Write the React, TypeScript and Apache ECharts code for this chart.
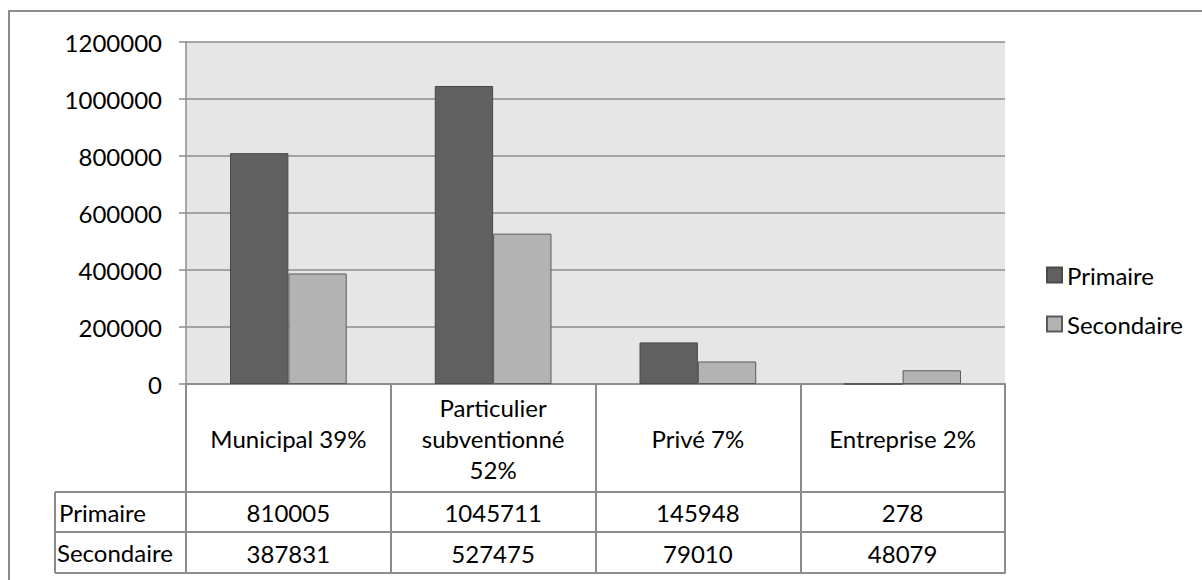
import React, { useEffect, useRef } from "react";
import * as echarts from "echarts";

const categories = ["Municipal 39%", "Particulier\nsubventionné\n52%", "Privé 7%", "Entreprise 2%"];
const seriesNames = ["Primaire", "Secondaire"];
const primaire = [810005, 1045711, 145948, 278];
const secondaire = [387831, 527475, 79010, 48079];
const yMin = 0;
const yMax = 1200000;
const yInterval = 200000;

const FONT = "Lato";
const LINE = "#8c8c8c";

export default function App() {
  const ref = useRef<HTMLDivElement>(null);
  useEffect(() => {
    document.body.style.margin = "0";
    const chart = echarts.init(ref.current!, null, { renderer: "svg" });
    const gridLeft = 186, gridTop = 42, gridRight = 1005, gridBottom = 384;
    const row1 = 108, row2 = 148, row3 = 189;
    const textBase = { fontFamily: FONT, fontSize: 24, color: "#000" };
    chart.setOption({
      animation: false,
      textStyle: { fontFamily: FONT },
      grid: {
        left: gridLeft, top: gridTop, right: 1202 - gridRight, bottom: 580 - gridBottom,
        show: true, backgroundColor: "#e6e6e6", borderWidth: 0,
      },
      legend: {
        orient: "vertical", left: 1046, top: 263, padding: 0, itemWidth: 15, itemHeight: 15, itemGap: 25,
        icon: "rect",
        data: seriesNames,
        textStyle: { ...textBase, lineHeight: 24 },
      },
      xAxis: [
        {
          type: "category", data: categories, position: "bottom",
          axisLine: { show: true, lineStyle: { color: LINE, width: 2 } },
          axisTick: { show: true, length: row3, interval: 0, lineStyle: { color: LINE, width: 2 } },
          axisLabel: { ...textBase, interval: 0, margin: 54, verticalAlign: "middle", lineHeight: 31 },
        },
        {
          type: "category", data: primaire.map(String), position: "bottom", offset: row1,
          axisLine: { show: true, lineStyle: { color: LINE, width: 2 } },
          axisTick: { show: false },
          axisLabel: { ...textBase, interval: 0, margin: 20, verticalAlign: "middle" },
        },
        {
          type: "category", data: secondaire.map(String), position: "bottom", offset: row2,
          axisLine: { show: true, lineStyle: { color: LINE, width: 2 } },
          axisTick: { show: false },
          axisLabel: { ...textBase, interval: 0, margin: 21, verticalAlign: "middle" },
        },
        {
          type: "category", data: categories, position: "bottom", offset: row3,
          axisLine: { show: true, lineStyle: { color: LINE, width: 2 } },
          axisTick: { show: false },
          axisLabel: { show: false },
        },
      ],
      yAxis: {
        type: "value", min: yMin, max: yMax, interval: yInterval,
        axisLine: { show: true, lineStyle: { color: LINE, width: 1.5 } },
        axisTick: { show: true, length: 7, lineStyle: { color: LINE, width: 1.5 } },
        axisLabel: { ...textBase, margin: 24, formatter: (v: number) => String(v) },
        splitLine: { show: true, lineStyle: { color: LINE, width: 1.5 } },
      },
      series: [
        {
          name: seriesNames[0], type: "bar", data: primaire, xAxisIndex: 0,
          barGap: "0%", barCategoryGap: "43%",
          itemStyle: { color: "#606060", borderColor: "#4a4a4a", borderWidth: 1 },
        },
        {
          name: seriesNames[1], type: "bar", data: secondaire, xAxisIndex: 0,
          barGap: "0%", barCategoryGap: "43%",
          itemStyle: { color: "#b3b3b3", borderColor: "#5a5a5a", borderWidth: 1 },
        },
      ],
      graphic: [
        { type: "rect", shape: { x: 9, y: 11, width: 1400, height: 800 }, style: { fill: "none", stroke: LINE, lineWidth: 2 }, silent: true },
        { type: "line", shape: { x1: 55, y1: gridBottom + row1, x2: 55, y2: gridBottom + row3 }, style: { stroke: LINE, lineWidth: 2 } },
        { type: "line", shape: { x1: 55, y1: gridBottom + row1, x2: gridLeft, y2: gridBottom + row1 }, style: { stroke: LINE, lineWidth: 2 } },
        { type: "line", shape: { x1: 55, y1: gridBottom + row2, x2: gridLeft, y2: gridBottom + row2 }, style: { stroke: LINE, lineWidth: 2 } },
        { type: "line", shape: { x1: 55, y1: gridBottom + row3, x2: gridLeft, y2: gridBottom + row3 }, style: { stroke: LINE, lineWidth: 2 } },
        { type: "text", x: 59, y: gridBottom + (row1 + row2) / 2, style: { text: seriesNames[0], ...textBase, fill: "#000", verticalAlign: "middle", align: "left" } },
        { type: "text", x: 57, y: gridBottom + (row2 + row3) / 2, style: { text: seriesNames[1], ...textBase, fill: "#000", verticalAlign: "middle", align: "left" } },
      ],
    });
    return () => chart.dispose();
  }, []);
  return <div ref={ref} style={{ width: 1202, height: 580 }} />;
}
